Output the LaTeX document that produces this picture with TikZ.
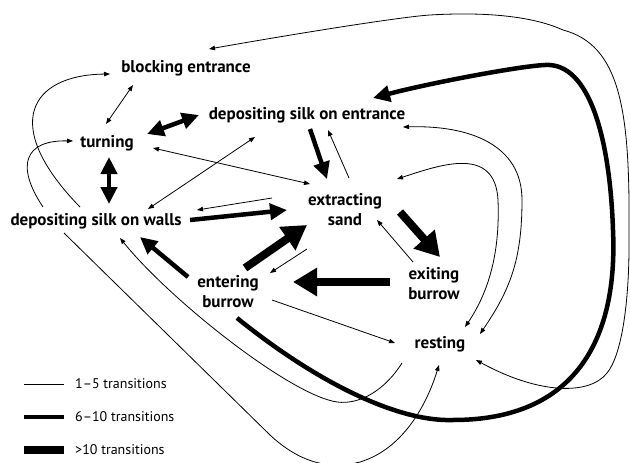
\documentclass[tikz,border=0pt]{standalone}
\usepackage{fontspec}
\setmainfont{PT Sans}
\usetikzlibrary{arrows.meta}
\begin{document}
\begin{tikzpicture}[x=1pt,y=-1pt,
  tt/.tip={Triangle[length=6pt,width=4.5pt]},
  mt/.tip={Triangle[length=17pt,width=16pt]},
  kt/.tip={Triangle[length=24pt,width=27pt]},
  lbl/.style={font=\fontsize{17}{20}\selectfont\bfseries, align=center, inner sep=0pt},
  leg/.style={font=\fontsize{14}{15}\selectfont, anchor=west, inner sep=0pt},
  tedge/.style={line width=0.8pt,-tt},
  tboth/.style={line width=0.8pt,tt-tt},
  medge/.style={line width=4.5pt,-mt},
  mboth/.style={line width=4.5pt,mt-mt},
  kedge/.style={line width=8pt,-kt}]
\path[use as bounding box] (0,0) rectangle (630,463);
% nodes
\node[lbl] (be) at (186,68) {blocking entrance};
\node[lbl] (dse) at (307,115) {depositing silk on entrance};
\node[lbl] (tu) at (107,143) {turning};
\node[lbl] (dsw) at (96,221) {depositing silk on walls};
\node[lbl] (es) at (345,210) {extracting\\sand};
\node[lbl] (eb) at (434,284) {exiting\\burrow};
\node[lbl] (en) at (228,292) {entering\\burrow};
\node[lbl] (re) at (440,344) {resting};
% endpoints
\coordinate (be1) at (133,85); \coordinate (tu1) at (106,124);
\coordinate (dswA) at (80,207); \coordinate (be2) at (110,74);
\coordinate (dswB) at (43,207); \coordinate (tu2) at (73,141);
\coordinate (tu3) at (147,134); \coordinate (dse1) at (199,115);
\coordinate (tu4) at (109,157); \coordinate (dsw1) at (109,204);
\coordinate (tu5) at (153,148); \coordinate (es1) at (310,184);
\coordinate (dsw2) at (148,209); \coordinate (dse2) at (255,137);
\coordinate (es2) at (272,198); \coordinate (dsw3) at (197,210);
\coordinate (dsw4) at (190,220); \coordinate (es3) at (287,210);
\coordinate (dse3) at (310,129); \coordinate (es4) at (327,179);
\coordinate (es5) at (349,178); \coordinate (dse4) at (328,130);
\coordinate (en1) at (188,277); \coordinate (dsw5) at (140,237);
\coordinate (en2) at (245,268); \coordinate (es6) at (307,225);
\coordinate (es7) at (307,249); \coordinate (en3) at (270,273);
\coordinate (eb1) at (390,282); \coordinate (en4) at (293,282);
\coordinate (es8) at (400,212); \coordinate (eb2) at (440,257);
\coordinate (eb3) at (413,262); \coordinate (es9) at (377,220);
\coordinate (en5) at (272,300); \coordinate (re1) at (395,343);
\coordinate (en6) at (237,318); \coordinate (dse5) at (373,98);
\coordinate (re2) at (476,360); \coordinate (be3) at (209,49);
\coordinate (dse6) at (403,127); \coordinate (re3) at (480,334);
\coordinate (es10) at (397,179); \coordinate (re4) at (465,327);
\coordinate (dsw6) at (64,233); \coordinate (re5) at (439,365);
\coordinate (re6) at (402,363); \coordinate (dsw7) at (120,238);
% thin edges
\draw[tboth] (be1) -- (tu1);
\draw[tedge] (dswA) .. controls (0,125) and (30,75) .. (be2);
\draw[tedge] (dswB) .. controls (15,165) and (25,140) .. (tu2);
\draw[tboth] (tu5) -- (es1);
\draw[tboth] (dsw2) -- (dse2);
\draw[tedge] (es2) -- (dsw3);
\draw[tedge] (es5) -- (dse4);
\draw[tedge] (es7) -- (en3);
\draw[tedge] (eb3) -- (es9);
\draw[tedge] (en5) -- (re1);
\draw[tboth] (re2) .. controls (540,395) and (590,395) .. (607,373)
  .. controls (622,355) and (630,300) .. (629,230)
  .. controls (630,110) and (620,45) .. (563,30)
  .. controls (530,15) and (480,12) .. (430,15)
  .. controls (400,17) and (300,33) .. (be3);
\draw[tboth] (dse6) .. controls (470,125) and (522,145) .. (522,200)
  .. controls (522,260) and (510,290) .. (re3);
\draw[tboth] (es10) .. controls (440,165) and (495,145) .. (498,200)
  .. controls (500,250) and (490,290) .. (re4);
\draw[tedge] (dsw6) -- (270,435) .. controls (300,463) and (330,470) .. (360,462)
  .. controls (400,450) and (425,410) .. (re5);
\draw[tedge] (re6) .. controls (385,390) and (360,405) .. (337,402)
  .. controls (290,395) and (170,300) .. (dsw7);
% medium edges
\draw[mboth] (tu3) -- (dse1);
\draw[mboth] (tu4) -- (dsw1);
\draw[medge] (dsw4) -- (es3);
\draw[medge] (dse3) -- (es4);
\draw[medge] (en1) -- (dsw5);
\draw[medge] (en6) .. controls (320,385) and (400,422) .. (453,420)
  .. controls (575,420) and (618,340) .. (613,230)
  .. controls (610,140) and (590,62) .. (545,65)
  .. controls (520,66) and (430,83) .. (dse5);
% thick edges
\draw[kedge] (en2) -- (es6);
\draw[kedge] (eb1) -- (en4);
\draw[kedge] (es8) -- (eb2);
% legend
\coordinate (l1a) at (24,384); \coordinate (l1b) at (64,384);
\coordinate (l2a) at (24,417); \coordinate (l2b) at (64,417);
\coordinate (l3a) at (24,450); \coordinate (l3b) at (64,450);
\node[leg] (t1) at (75,384) {1–5 transitions};
\node[leg] (t2) at (75,417) {6–10 transitions};
\node[leg] (t3) at (75,450) {>10 transitions};
\draw[line width=0.8pt] (l1a) -- (l1b);
\draw[line width=4.5pt] (l2a) -- (l2b);
\draw[line width=7.5pt] (l3a) -- (l3b);
\end{tikzpicture}
\end{document}
